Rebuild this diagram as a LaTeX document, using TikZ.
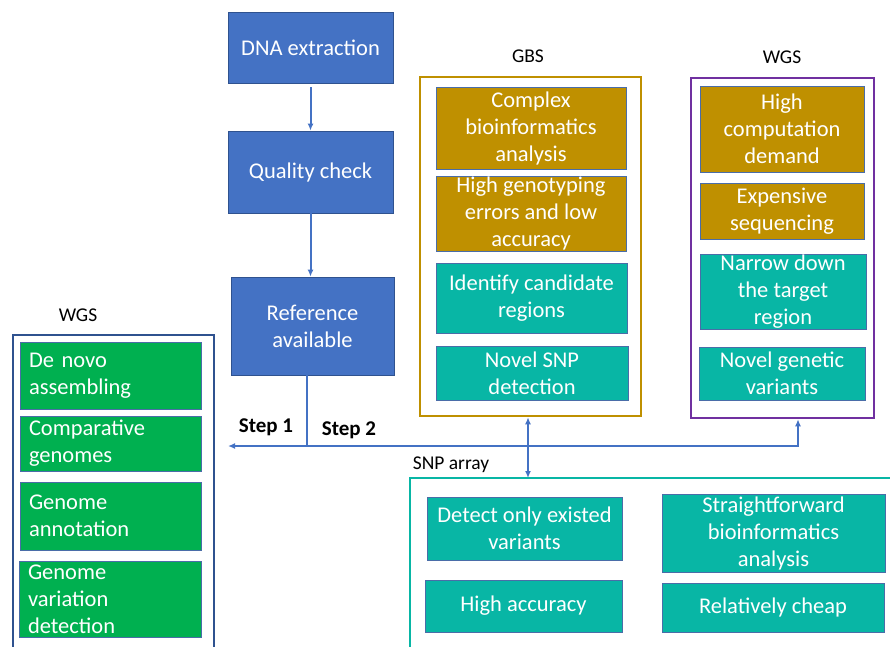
\documentclass[tikz,border=0pt]{standalone}
\usepackage{fontspec}
\setmainfont{Carlito}
\usetikzlibrary{arrows.meta}
\definecolor{cblue}{HTML}{4472C4}
\definecolor{cblueborder}{HTML}{2F528F}
\definecolor{citemborder}{HTML}{4A6DA8}
\definecolor{cgreen}{HTML}{00B050}
\definecolor{cgold}{HTML}{BF9000}
\definecolor{cteal}{HTML}{08B6A5}
\definecolor{cpurple}{HTML}{7030A0}
\tikzset{
  bigfont/.style={font=\fontsize{22.5}{27}\selectfont},
  flowbox/.style={rectangle, draw=cblueborder, line width=0.8pt, fill=cblue, text=white, bigfont, align=center, inner sep=0pt},
  itembox/.style={rectangle, draw=citemborder, line width=1pt, text=white, bigfont, align=center, inner sep=0pt},
  golditem/.style={itembox, fill=cgold},
  tealitem/.style={itembox, fill=cteal},
  greenitem/.style={itembox, fill=cgreen, align=left, text width=#1, inner xsep=9pt},
  frame/.style={rectangle, line width=2.5pt, inner sep=0pt},
  grouplabel/.style={font=\fontsize{19.5}{22}\selectfont, text=black, inner sep=0pt},
  steplabel/.style={font=\fontsize{21}{24}\selectfont\bfseries, text=black, inner sep=0pt},
  conn/.style={draw=cblue, line width=2pt},
  arr/.style={conn, -{Latex[length=7pt,width=6pt]}},
}
\begin{document}
\begin{tikzpicture}[x=1pt,y=-1pt]
\useasboundingbox (0,0) rectangle (890,646);
\clip (0,0) rectangle (890,646);

% main flow
\node[flowbox, minimum width=165pt, minimum height=71pt] (dna) at (310.5,47.5) {DNA extraction};
\node[flowbox, minimum width=165pt, minimum height=82pt] (qc) at (310.5,172) {Quality check};
\node[flowbox, minimum width=163pt, minimum height=98pt] (ref) at (312.5,326) {Reference\\available};

% GBS frame
\node[grouplabel] (gbslab) at (528,56) {GBS};
\node[frame, draw=cgold, minimum width=221pt, minimum height=339pt] (gbs) at (530.5,246.5) {};
\node[golditem, minimum width=190pt, minimum height=82pt] (c1) at (531,128) {Complex\\bioinformatics\\analysis};
\node[golditem, minimum width=190pt, minimum height=75pt] (c2) at (531,213.5) {High genotyping\\errors and low\\accuracy};
\node[tealitem, minimum width=191pt, minimum height=70pt] (c3) at (531.5,298) {Identify candidate\\regions};
\node[tealitem, minimum width=192pt, minimum height=54pt] (c4) at (532,373) {Novel SNP\\detection};

% WGS right frame
\node[grouplabel] (wgsrlab) at (782,57) {WGS};
\node[frame, draw=cpurple, minimum width=183pt, minimum height=340pt] (wgsr) at (782.5,248) {};
\node[golditem, minimum width=164pt, minimum height=86pt] (r1) at (782,129) {High\\computation\\demand};
\node[golditem, minimum width=164pt, minimum height=56pt] (r2) at (782,211) {Expensive\\sequencing};
\node[tealitem, minimum width=166pt, minimum height=75pt] (r3) at (783,291.5) {Narrow down\\the target\\region};
\node[tealitem, minimum width=166pt, minimum height=53pt] (r4) at (782,373.5) {Novel genetic\\variants};

% WGS left frame (open at bottom)
\node[grouplabel] (wgsllab) at (78,315) {WGS};
\draw[draw=cblueborder, line width=2pt] (13,660) -- (13,335) -- (214,335) -- (214,660);
\node[greenitem=163pt, minimum height=67pt] (g1) at (110.5,375.5) {De novo\\assembling};
\node[greenitem=163pt, minimum height=55pt] (g2) at (110.5,443.5) {Comparative\\genomes};
\node[greenitem=163pt, minimum height=68pt] (g3) at (110.5,516) {Genome\\annotation};
\node[greenitem=164pt, minimum height=76pt] (g4) at (110,599) {Genome\\variation\\detection};

% SNP array frame (open at bottom/right)
\node[grouplabel] (snplab) at (451,465) {SNP array};
\draw[draw=cteal, line width=2.5pt] (410,660) -- (410,478) -- (900,478);
\coordinate (snptop) at (528,478);
\node[tealitem, minimum width=195pt, minimum height=63pt] (s1) at (524.5,528.5) {Detect only existed\\variants};
\node[tealitem, minimum width=223pt, minimum height=78pt] (s2) at (773.5,533) {Straightforward\\bioinformatics\\analysis};
\node[tealitem, minimum width=197pt, minimum height=52pt] (s3) at (523.5,606) {High accuracy};
\node[tealitem, minimum width=222pt, minimum height=49pt] (s4) at (773,607.5) {Relatively cheap};

% connectors
\draw[arr] ([yshift=-4pt]dna.south) -- (qc.north);
\draw[arr] (qc.south) -- (qc.south |- ref.north);
\coordinate (j1) at (307,446);
\coordinate (wend) at (228,446);
\coordinate (j3) at (528,446);
\coordinate (j2) at (798,446);
\draw[conn] (ref.south -| j1) -- (j1);
\draw[arr] (j1) -- (wend);
\draw[arr] (j1) -- (j2) -- (j2 |- wgsr.south);
\draw[arr] (j3) -- (j3 |- gbs.south);
\draw[arr] (j3) -- (snptop);

\node[steplabel] (step1) at (266,427) {Step 1};
\node[steplabel] (step2) at (349,430) {Step 2};
\end{tikzpicture}
\end{document}
